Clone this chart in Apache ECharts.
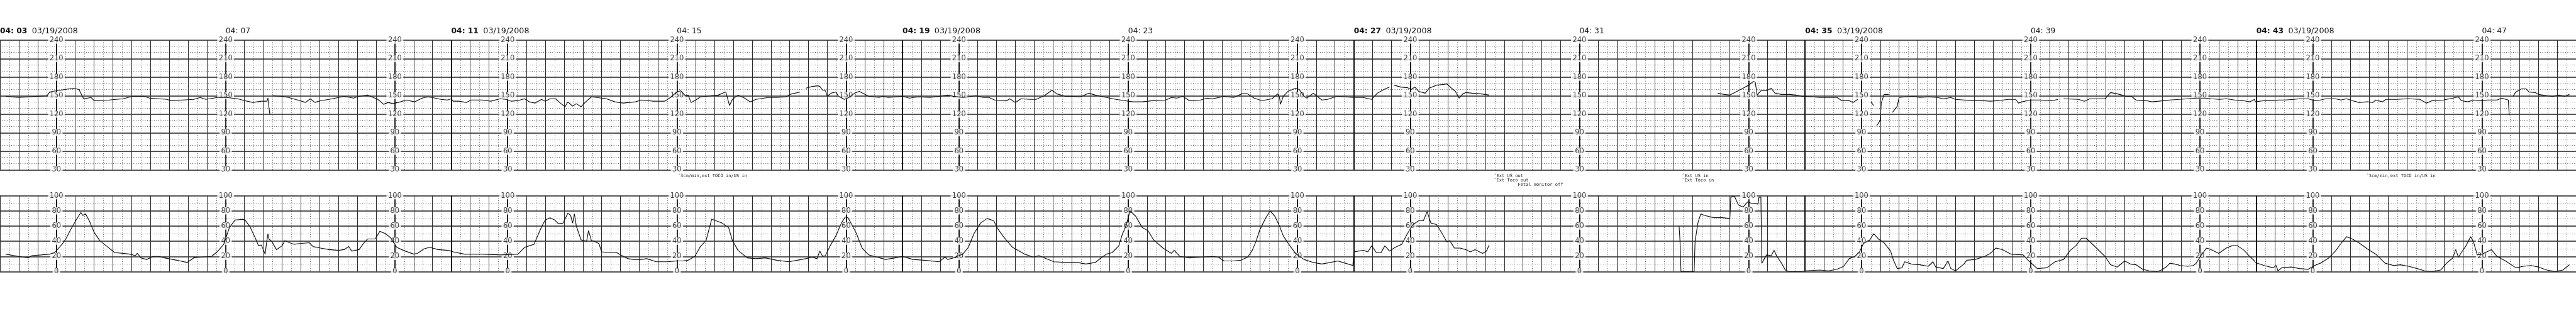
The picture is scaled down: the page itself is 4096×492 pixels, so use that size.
<!DOCTYPE html>
<html><head><meta charset="utf-8">
<script src="https://cdn.jsdelivr.net/npm/echarts@6/dist/echarts.min.js"></script>
<style>html,body{margin:0;padding:0;background:#fff}#c{width:4096px;height:492px}</style>
</head><body><div id="c"></div>
<script>
// ---- data (time in seconds after 04:00:00) ----
const fhrData = [
[186,149],[200,147],[220,149],[230,150],[233,156],[236,157],[249,160],[258,162],[264,160],[269,145],[277,147],[280,142],[296,143],[311,145],[321,149],[333,149],[339,146],[349,145],[358,144],[361,142],[374,143],[386,144],[393,147],[399,144],[411,147],[421,147],[433,145],[440,142],[449,139],[458,141],[464,141],[465,146],[466,132],[467,120],[468,null],[470,150],[480,149],[487,147],[499,142],[505,139],[510,145],[515,139],[521,142],[530,144],[540,147],[546,149],[556,146],[562,149],[571,151],[577,147],[582,144],[588,136],[593,139],[598,137],[606,140],[612,143],[621,140],[629,146],[635,148],[643,146],[649,144],[656,143],[660,145],
[662,141],[668,141],[676,139],[681,143],[693,143],[702,141],[712,145],[718,144],[724,141],[731,142],[738,145],[743,140],[749,138],[756,144],[760,141],[765,145],[771,145],[776,138],[781,132],[784,140],[789,133],[793,137],[798,132],[803,140],[809,148],[815,147],[825,145],[834,140],[843,138],[856,140],[862,143],[875,141],[887,141],[893,147],[900,156],[904,158],[909,150],[912,151],[915,139],[920,143],[925,148],[937,150],[944,151],[950,155],[952,156],[956,134],[959,144],[965,151],[972,146],[978,140],[984,144],[997,147],[1006,147],[1016,148],[1020,152],[1031,156],[1033,null],[1037,162],[1044,165],[1050,166],[1052,165],[1055,159],[1058,158],[1060,149],[1064,154],[1069,156],[1072,149],[1078,144],[1083,147],[1089,154],[1094,157],[1099,153],[1104,149],[1110,148],[1115,147],[1119,149],[1125,147],[1140,149],
[1141,147],[1147,146],[1157,148],[1169,147],[1179,149],[1188,151],[1194,149],[1204,147],[1210,148],[1218,150],[1226,147],[1232,147],[1238,143],[1251,142],[1254,145],[1260,139],[1266,145],[1276,144],[1282,144],[1291,150],[1299,159],[1304,153],[1313,149],[1320,149],[1329,148],[1338,154],[1345,151],[1357,147],[1367,144],[1376,142],[1385,140],[1395,140],[1407,142],[1420,143],[1426,147],[1432,146],[1438,149],[1445,142],[1457,143],[1464,146],[1470,145],[1482,149],[1492,147],[1501,153],[1507,153],[1514,146],[1522,142],
[1526,143],[1533,145],[1539,153],[1541,147],[1542,136],[1545,149],[1550,157],[1558,162],[1562,160],[1567,149],[1570,146],[1577,154],[1581,149],[1586,143],[1592,144],[1598,147],[1603,149],[1611,148],[1619,147],
[1620,148],[1630,147],[1639,144],[1645,154],[1652,160],[1658,164],[1659,null],[1663,167],[1670,164],[1677,163],[1681,160],[1685,164],[1689,157],[1696,154],[1700,162],[1708,167],[1714,168],[1719,169],[1724,162],[1728,157],[1732,146],[1736,153],[1739,155],[1746,154],[1755,153],[1764,151],[1765,null],
[2007,154],[2014,152],[2020,151],[2025,155],[2034,162],[2040,167],[2045,173],[2047,172],[2049,151],[2053,158],[2059,158],[2064,162],[2068,154],[2075,152],[2084,152],[2090,151],[2097,149],
[2100,149],[2109,148],[2115,147],[2125,147],[2134,147],[2139,142],[2147,142],[2151,139],[2156,144],[2157,null],[2170,140],[2173,134],[2174,null],[2176,101],[2180,110],[2181,138],[2184,152],[2189,152],[2190,null],[2193,123],[2198,133],[2200,147],[2206,148],[2216,149],[2222,147],[2231,148],[2241,147],[2247,145],[2255,147],[2260,144],[2269,143],[2278,142],[2288,142],[2297,141],[2306,142],[2316,144],[2324,144],[2327,138],[2331,140],[2339,143],[2350,143],[2363,142],[2369,144],[2371,null],[2375,145],[2391,144],[2397,141],[2403,145],[2419,145],[2425,155],[2432,153],[2437,151],[2441,149],[2447,149],[2452,143],[2458,142],[2463,142],[2469,140],[2476,141],[2482,142],[2488,143],[2498,144],[2507,145],[2516,146],[2526,146],[2532,145],[2541,144],[2548,145],[2557,143],[2566,142],[2573,140],[2578,144],
[2579,140],[2588,142],[2598,142],[2604,143],[2610,143],[2620,144],[2626,145],[2635,145],[2642,142],[2648,143],[2654,145],[2664,145],[2670,143],[2676,145],[2682,142],[2689,139],[2698,140],[2704,139],[2707,143],[2714,140],[2718,144],[2729,144],[2742,145],[2754,144],[2761,138],[2767,142],[2779,143],[2789,146],[2795,148],[2798,142],[2805,140],[2811,143],[2820,142],[2826,143],[2836,143],[2841,146],[2848,143],[2849,118],[2850,null],[2853,149],[2856,156],[2862,161],[2867,161],[2870,156],[2877,155],[2880,152],[2889,150],[2895,149],[2902,151],[2908,149],[2913,152]
];
const ucData = [
[186,23],[195,21],[205,19],[210,18],[214,21],[224,22],[233,23],[238,25],[241,29],[246,36],[250,43],[255,55],[261,68],[266,78],[268,74],[271,76],[275,67],[280,52],[286,41],[293,34],[302,25],[311,24],[318,23],[324,21],[326,24],[330,18],[336,16],[343,20],[349,20],[355,18],[368,15],[379,12],[386,18],[393,19],[405,20],[411,26],[418,36],[424,58],[430,68],[440,69],[446,59],[452,43],[455,34],[458,35],[462,23],[463,33],[465,50],[466,43],[469,40],[474,29],[480,34],[483,41],[488,38],[493,36],[499,37],[509,38],[513,33],[521,31],[530,29],[540,28],[546,29],[551,33],[554,27],[562,29],[566,36],[571,43],[579,43],[584,53],[590,50],[596,44],[602,32],[609,28],[620,23],[624,24],[631,30],[637,32],[646,29],[656,28],[660,27],
[662,26],[674,23],[693,23],[712,22],[731,23],[738,32],[743,34],[748,36],[756,59],[760,68],[765,71],[770,68],[774,63],[779,64],[784,77],[787,74],[789,64],[791,76],[793,60],[798,42],[804,40],[806,54],[809,41],[812,40],[817,37],[820,26],[828,25],[836,25],[840,22],[848,17],[854,16],[862,16],[868,17],[878,13],[890,13],[900,14],[906,14],[912,15],[919,20],[925,33],[931,41],[937,69],[944,66],[948,64],[955,58],[959,41],[965,28],[975,18],[984,17],[994,18],[1006,15],[1019,13],[1028,15],[1037,17],[1044,19],[1049,17],[1052,27],[1055,20],[1058,21],[1063,34],[1069,47],[1075,64],[1079,72],[1082,71],[1086,62],[1091,50],[1097,31],[1104,22],[1113,19],[1122,16],[1132,18],[1140,20],
[1141,19],[1151,16],[1163,15],[1179,13],[1185,19],[1188,16],[1194,18],[1204,23],[1210,32],[1216,50],[1223,64],[1230,70],[1237,67],[1241,57],[1248,45],[1257,32],[1270,23],[1279,19],[1285,21],[1291,18],[1301,13],[1313,12],[1326,12],[1335,10],[1345,12],[1351,18],[1357,23],[1363,25],[1370,34],[1374,50],[1376,55],[1378,62],[1382,80],[1388,73],[1395,58],[1401,54],[1407,42],[1417,31],[1426,24],[1429,28],[1435,20],[1445,18],[1457,19],[1470,20],[1476,19],[1482,14],[1492,14],[1500,15],[1507,19],[1512,28],[1516,40],[1520,55],[1526,70],[1531,80],[1536,73],[1541,60],[1545,47],[1552,34],[1558,24],[1567,16],[1577,12],[1586,10],[1595,12],[1603,14],[1611,11],[1619,8],
[1620,26],[1630,28],[1635,26],[1639,34],[1644,25],[1649,25],[1653,34],[1658,27],[1664,32],[1671,36],[1677,50],[1683,62],[1689,67],[1694,67],[1698,79],[1702,64],[1708,62],[1714,50],[1719,39],[1722,41],[1727,31],[1733,31],[1739,29],[1744,26],[1749,29],[1757,24],[1761,27],[1764,35],[1765,null],
[1966,60],[1967,40],[1968,0],[1982,0],[1983,40],[1986,64],[1989,76],[1993,74],[2003,71],[2012,71],[2020,70],[2021,98],[2025,99],[2029,88],[2034,85],[2039,92],[2043,90],[2050,89],[2051,98],[2053,98],[2054,11],[2059,22],[2064,21],[2067,28],[2070,20],[2075,11],[2079,2],[2083,0],[2097,0],
[2100,1],[2116,2],[2125,1],[2134,3],[2141,7],[2147,17],[2153,20],[2158,26],[2162,37],[2169,42],[2173,50],[2178,43],[2184,38],[2191,27],[2194,15],[2198,4],[2203,5],[2206,13],[2213,10],[2222,9],[2231,7],[2236,13],[2239,6],[2247,4],[2252,14],[2255,4],[2260,1],[2269,10],[2272,15],[2281,16],[2291,20],[2297,24],[2303,31],[2310,29],[2319,23],[2332,22],[2338,14],[2347,4],[2357,5],[2366,13],[2375,16],[2382,28],[2388,34],[2394,44],[2399,44],[2404,38],[2410,31],[2419,20],[2425,9],[2432,6],[2440,14],[2446,10],[2452,9],[2459,3],[2466,1],[2474,0],[2479,2],[2485,7],[2488,11],[2493,10],[2499,8],[2507,7],[2513,8],[2516,11],[2521,21],[2527,31],[2532,29],[2540,24],[2548,31],[2554,34],[2560,34],[2567,28],[2573,20],[2578,14],
[2579,12],[2588,8],[2598,5],[2601,8],[2603,1],[2607,5],[2617,6],[2626,4],[2635,3],[2642,8],[2648,11],[2657,18],[2664,27],[2670,37],[2676,46],[2682,43],[2689,38],[2698,30],[2707,23],[2717,11],[2726,8],[2733,9],[2742,7],[2751,4],[2759,1],[2767,0],[2776,2],[2783,12],[2789,18],[2792,29],[2795,19],[2798,25],[2803,34],[2808,46],[2811,39],[2815,22],[2820,23],[2830,29],[2836,20],[2845,14],[2856,5],[2864,7],[2872,8],[2880,6],[2889,2],[2898,0],[2906,2],[2913,9]
];
const timeLabelSec = [180,420,660,900,1140,1380,1620,1860,2100,2340,2580,2820];
const timeLabelText = ['04: 03','04: 07','04: 11','04: 15','04: 19','04: 23','04: 27','04: 31','04: 35','04: 39','04: 43','04: 47'];
const pageStartSec = [180,660,1140,1620,2100,2580];
const pageDate = '03/19/2008';
const scaleColumnSec = [240,420,600,720,900,1080,1200,1380,1560,1680,1860,2040,2160,2340,2520,2640,2820];
const fhrTickLabels = [240,210,180,150,120,90,60,30];
const ucTickLabels = [100,80,60,40,20,0];
const noteSec = [901,1769,1969,2697];
const noteText = [
  ['\u02c63cm/min,ext TOCO in/US in'],
  ['\u02c6Ext US out','\u02c6Ext Toco out','         Fetal monitor off'],
  ['\u02c6Ext US in','\u02c6Ext Toco in'],
  ['\u02c63cm/min,ext TOCO in/US in']
];

// ---- layout ----
const S = 0.819;
const X0 = 180, X1 = 2920;
const pxPerSec = 110/60*S;
const gridLeft = -11*S;
const gridWidth = (X1-X0)*pxPerSec;
const fhrTop = 78*S, fhrH = 252*S, ucTop = 380.5*S, ucH = 147.5*S;

const chart = echarts.init(document.getElementById('c'));
function xAx(gi){
  return {type:'value',gridIndex:gi,min:X0,max:X1,interval:20,
    axisLine:{show:false},axisTick:{show:false},axisLabel:{show:false},
    splitLine:{show:true,lineStyle:{color:'#2b2b2b',width:1}},
    minorTick:{show:false,splitNumber:2},
    minorSplitLine:{show:true,lineStyle:{color:'#555',width:1,type:[1,2.6]}}};
}
function yAx(gi,min,max,iv,minor){
  return {type:'value',gridIndex:gi,min:min,max:max,interval:iv,
    axisLine:{show:false},axisTick:{show:false},axisLabel:{show:false},
    splitLine:{show:true,lineStyle:{color:'#1e1e1e',width:1.5}},
    minorTick:{show:false,splitNumber:minor},
    minorSplitLine:{show:true,lineStyle:{color:'#555',width:1,type:[1,2.6]}}};
}
function vLines(gi){
  const d = scaleColumnSec.map(t=>({xAxis:t,lineStyle:{width:1.7,color:'#111',type:'solid'}}))
    .concat(pageStartSec.slice(1).map(t=>({xAxis:t,lineStyle:{width:2,color:'#111',type:'solid'}})));
  return {type:'line',xAxisIndex:gi,yAxisIndex:gi,data:[[X0,null]],z:3,silent:true,
    markLine:{silent:true,symbol:['none','none'],label:{show:false},animation:false,data:d}};
}
function scaleLabels(gi,ticks){
  const d=[];
  scaleColumnSec.forEach(t=>ticks.forEach(v=>d.push([t,v])));
  return {type:'scatter',xAxisIndex:gi,yAxisIndex:gi,data:d,symbolSize:1,clip:false,z:5,silent:true,
    itemStyle:{color:'rgba(0,0,0,0)'},
    label:{show:true,position:'inside',formatter:p=>String(p.value[1]),
      fontFamily:'DejaVu Sans',fontSize:14*S,color:'#111',backgroundColor:'#fff',
      padding:[0,2.5],lineHeight:11.5}};
}
const option = {
  backgroundColor:'#fff',
  animation:false,
  grid:[
    {left:gridLeft,top:fhrTop,width:gridWidth,height:fhrH},
    {left:gridLeft,top:ucTop,width:gridWidth,height:ucH}
  ],
  xAxis:[xAx(0),xAx(1)],
  yAxis:[yAx(0,30,240,30,3),yAx(1,0,100,20,2)],
  series:[
    vLines(0),vLines(1),
    scaleLabels(0,fhrTickLabels),scaleLabels(1,ucTickLabels),
    {type:'line',xAxisIndex:0,yAxisIndex:0,data:fhrData,showSymbol:false,connectNulls:false,z:10,
      lineStyle:{color:'#111',width:1.15}},
    {type:'line',xAxisIndex:1,yAxisIndex:1,data:ucData,showSymbol:false,connectNulls:false,z:10,
      lineStyle:{color:'#111',width:1.15}}
  ]
};
chart.setOption(option);

// text above/below the grids, x placed through the time axis
const g = [];
const timeY = 61*S;
timeLabelSec.forEach((t,i)=>{
  const x = chart.convertToPixel({xAxisIndex:0},t);
  const isPage = pageStartSec.indexOf(t)>=0;
  g.push({type:'text',x:x,y:timeY,silent:true,style:{text:timeLabelText[i],fill:'#111',
    font:(isPage?'bold ':'')+(15*S).toFixed(2)+'px "DejaVu Sans"',textVerticalAlign:'middle',textAlign:'left'}});
  if(isPage){
    g.push({type:'text',x:x+62*S,y:timeY,silent:true,style:{text:pageDate,fill:'#111',
      font:(15.5*S).toFixed(2)+'px "DejaVu Sans"',textVerticalAlign:'middle',textAlign:'left'}});
  }
});
const noteY0 = 341.5*S, noteStep = 8.8*S;
noteSec.forEach((t,i)=>{
  const x = chart.convertToPixel({xAxisIndex:0},t);
  noteText[i].forEach((s,j)=>{
    g.push({type:'text',x:x,y:noteY0+j*noteStep,silent:true,style:{text:s,fill:'#222',
      font:(8.6*S).toFixed(2)+'px "DejaVu Sans Mono"',textVerticalAlign:'middle',textAlign:'left'}});
  });
});
chart.setOption({graphic:g});
</script>
</body></html>
